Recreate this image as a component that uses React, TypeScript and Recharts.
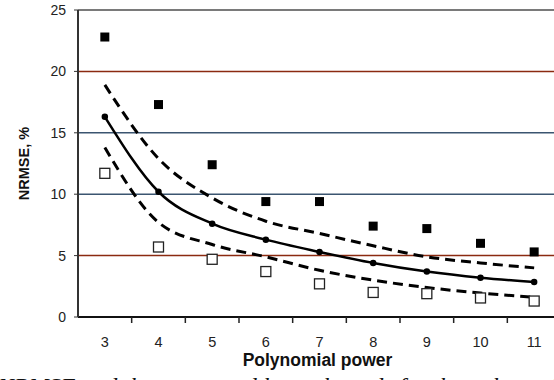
import React from "react"
import { ComposedChart, Line, XAxis, YAxis, ReferenceLine } from "recharts"

const powers = [3, 4, 5, 6, 7, 8, 9, 10, 11]
const maxErr = [22.8, 17.3, 12.4, 9.4, 9.4, 7.4, 7.2, 6.0, 5.3]
const minErr = [11.7, 5.7, 4.7, 3.7, 2.7, 2.0, 1.9, 1.55, 1.3]
const meanFit = [16.3, 10.2, 7.6, 6.3, 5.3, 4.4, 3.7, 3.2, 2.85]
const upperBound = [18.9, 12.9, 9.7, 7.8, 6.8, 5.8, 4.9, 4.4, 4.0]
const lowerBound = [13.8, 7.7, 5.9, 4.9, 3.8, 3.0, 2.4, 1.95, 1.6]
const yTicks = [0, 5, 10, 15, 20, 25]
const xTicks = [2.5, 3, 3.5, 4, 4.5, 5, 5.5, 6, 6.5, 7, 7.5, 8, 8.5, 9, 9.5, 10, 10.5, 11, 11.5]

const gridLines = [
  { y: 5, color: "#8b2a10" },
  { y: 10, color: "#3b5570" },
  { y: 15, color: "#3b5570" },
  { y: 20, color: "#8b2a10" },
  { y: 25, color: "#7a7a7a" },
]

const data = powers.map((p, i) => ({
  p,
  maxErr: maxErr[i],
  minErr: minErr[i],
  mean: meanFit[i],
  upper: upperBound[i],
  lower: lowerBound[i],
}))

const font = "Arial, 'Liberation Sans', sans-serif"

function XTick(props: any) {
  const { x, y, payload } = props
  if (payload.value % 1 === 0) {
    return (
      <text x={x} y={y + 24} textAnchor="middle" fontSize={14.5} fontFamily={font} fill="#222">
        {payload.value}
      </text>
    )
  }
  if (payload.value === 2.5 || payload.value === 11.5) return null
  return <line x1={x} x2={x} y1={y - 6} y2={y} stroke="#222" strokeWidth={1.5} />
}

function FilledSquare(props: any) {
  const { cx, cy, index } = props
  return <rect key={"f" + index} x={cx - 4.5} y={cy - 4.5} width={9} height={9} fill="#000" />
}

function OpenSquare(props: any) {
  const { cx, cy, index } = props
  return (
    <rect key={"o" + index} x={cx - 5} y={cy - 5} width={10} height={10} fill="#fff" stroke="#222" strokeWidth={1.3} />
  )
}

export default function App() {
  return (
    <div style={{ position: "absolute", left: 0, top: 0, width: 554, height: 380, overflow: "hidden", background: "#fff" }}>
      <ComposedChart width={570} height={375} data={data} margin={{ top: 10, right: 9, bottom: 0, left: 0 }}>
        {gridLines.map((g) => (
          <ReferenceLine key={g.y} y={g.y} stroke={g.color} strokeWidth={g.y === 25 ? 2 : 1.5} />
        ))}
        <XAxis
          dataKey="p"
          type="number"
          domain={[2.5, 11.5]}
          ticks={xTicks}
          interval={0}
          tickLine={false}
          tickSize={6}
          tickMargin={0}
          tick={<XTick />}
          axisLine={{ stroke: "#111", strokeWidth: 2 }}
          height={58}
          label={{
            content: (p: any) => (
              <text
                x={p.viewBox.x + p.viewBox.width / 2 - 2}
                y={366}
                textAnchor="middle"
                fontSize={17.5}
                fontWeight="bold"
                fontFamily={font}
                fill="#111"
              >
                Polynomial power
              </text>
            ),
          }}
        />
        <YAxis
          domain={[0, 25]}
          ticks={yTicks}
          width={78}
          tickSize={4}
          tickMargin={8}
          tick={{ fontSize: 14, fontFamily: font, fill: "#222" }}
          tickLine={{ stroke: "#333" }}
          axisLine={{ stroke: "#333", strokeWidth: 2 }}
          label={{
            content: (p: any) => {
              const cy = p.viewBox.y + p.viewBox.height / 2
              return (
                <text
                  x={29}
                  y={cy}
                  transform={`rotate(-90 29 ${cy})`}
                  textAnchor="middle"
                  fontSize={14.5}
                  fontWeight="bold"
                  fontFamily={font}
                  fill="#111"
                >
                  NRMSE, %
                </text>
              )
            },
          }}
        />
        <Line dataKey="upper" type="monotone" stroke="#000" strokeWidth={3} strokeDasharray="10 6" dot={false} isAnimationActive={false} />
        <Line dataKey="lower" type="monotone" stroke="#000" strokeWidth={3} strokeDasharray="10 6" dot={false} isAnimationActive={false} />
        <Line
          dataKey="mean"
          type="monotone"
          stroke="#000"
          strokeWidth={2.5}
          dot={{ r: 2, fill: "#000", stroke: "#000" }}
          isAnimationActive={false}
        />
        <Line dataKey="maxErr" stroke="none" dot={<FilledSquare />} activeDot={false} isAnimationActive={false} />
        <Line dataKey="minErr" stroke="none" dot={<OpenSquare />} activeDot={false} isAnimationActive={false} />
      </ComposedChart>
      <div
        style={{
          position: "absolute",
          left: -2,
          top: 373,
          whiteSpace: "nowrap",
          fontFamily: "'Liberation Serif', 'Times New Roman', serif",
          fontStyle: "italic",
          fontSize: 24,
          color: "#111",
        }}
      >
        NRMSE and the upper and lower bounds for the polynomial model. N
      </div>
    </div>
  )
}
